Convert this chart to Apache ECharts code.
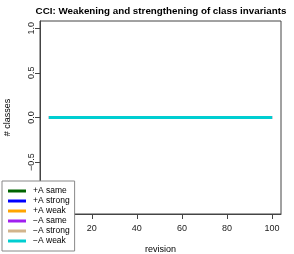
<!DOCTYPE html>
<html>
<head>
<meta charset="utf-8">
<script src="https://cdn.jsdelivr.net/npm/echarts@6/dist/echarts.min.js"></script>
<style>html,body{margin:0;padding:0;background:#fff}#c{width:294px;height:254px}</style>
</head>
<body>
<div id="c"></div>
<script>
const revisions = [1,2,3,4,5,6,7,8,9,10,11,12,13,14,15,16,17,18,19,20,21,22,23,24,25,26,27,28,29,30,31,32,33,34,35,36,37,38,39,40,41,42,43,44,45,46,47,48,49,50,51,52,53,54,55,56,57,58,59,60,61,62,63,64,65,66,67,68,69,70,71,72,73,74,75,76,77,78,79,80,81,82,83,84,85,86,87,88,89,90,91,92,93,94,95,96,97,98,99,100];
const plusSame    = [0,0,0,0,0,0,0,0,0,0,0,0,0,0,0,0,0,0,0,0,0,0,0,0,0,0,0,0,0,0,0,0,0,0,0,0,0,0,0,0,0,0,0,0,0,0,0,0,0,0,0,0,0,0,0,0,0,0,0,0,0,0,0,0,0,0,0,0,0,0,0,0,0,0,0,0,0,0,0,0,0,0,0,0,0,0,0,0,0,0,0,0,0,0,0,0,0,0,0,0];
const plusStrong  = [0,0,0,0,0,0,0,0,0,0,0,0,0,0,0,0,0,0,0,0,0,0,0,0,0,0,0,0,0,0,0,0,0,0,0,0,0,0,0,0,0,0,0,0,0,0,0,0,0,0,0,0,0,0,0,0,0,0,0,0,0,0,0,0,0,0,0,0,0,0,0,0,0,0,0,0,0,0,0,0,0,0,0,0,0,0,0,0,0,0,0,0,0,0,0,0,0,0,0,0];
const plusWeak    = [0,0,0,0,0,0,0,0,0,0,0,0,0,0,0,0,0,0,0,0,0,0,0,0,0,0,0,0,0,0,0,0,0,0,0,0,0,0,0,0,0,0,0,0,0,0,0,0,0,0,0,0,0,0,0,0,0,0,0,0,0,0,0,0,0,0,0,0,0,0,0,0,0,0,0,0,0,0,0,0,0,0,0,0,0,0,0,0,0,0,0,0,0,0,0,0,0,0,0,0];
const minusSame   = [0,0,0,0,0,0,0,0,0,0,0,0,0,0,0,0,0,0,0,0,0,0,0,0,0,0,0,0,0,0,0,0,0,0,0,0,0,0,0,0,0,0,0,0,0,0,0,0,0,0,0,0,0,0,0,0,0,0,0,0,0,0,0,0,0,0,0,0,0,0,0,0,0,0,0,0,0,0,0,0,0,0,0,0,0,0,0,0,0,0,0,0,0,0,0,0,0,0,0,0];
const minusStrong = [0,0,0,0,0,0,0,0,0,0,0,0,0,0,0,0,0,0,0,0,0,0,0,0,0,0,0,0,0,0,0,0,0,0,0,0,0,0,0,0,0,0,0,0,0,0,0,0,0,0,0,0,0,0,0,0,0,0,0,0,0,0,0,0,0,0,0,0,0,0,0,0,0,0,0,0,0,0,0,0,0,0,0,0,0,0,0,0,0,0,0,0,0,0,0,0,0,0,0,0];
const minusWeak   = [0,0,0,0,0,0,0,0,0,0,0,0,0,0,0,0,0,0,0,0,0,0,0,0,0,0,0,0,0,0,0,0,0,0,0,0,0,0,0,0,0,0,0,0,0,0,0,0,0,0,0,0,0,0,0,0,0,0,0,0,0,0,0,0,0,0,0,0,0,0,0,0,0,0,0,0,0,0,0,0,0,0,0,0,0,0,0,0,0,0,0,0,0,0,0,0,0,0,0,0];
const seriesNames = ['+A same','+A strong','+A weak','\u2212A same','\u2212A strong','\u2212A weak'];
const seriesColors = ['#006400','#0000FF','#FFA500','#A020F0','#D2B48C','#00CED1'];
const xTicks = [0,20,40,60,80,100];
const yTicks = [-1,-0.5,0,0.5,1];
const title = 'CCI: Weakening and strengthening of class invariants';

const seriesData = [plusSame, plusStrong, plusWeak, minusSame, minusStrong, minusWeak];
const FONT = '"Liberation Sans", Arial, Helvetica, sans-serif';
const fmtY = v => { const s = v.toFixed(1); return v < 0 ? '\u2212' + s.slice(1) : s; };

const chart = echarts.init(document.getElementById('c'), null, {renderer: 'canvas'});
chart.setOption({
  animation: false,
  backgroundColor: '#fff',
  textStyle: {fontFamily: FONT},
  title: {
    text: title, left: 161, top: 6, textAlign: 'center', padding: 0,
    textStyle: {fontSize: 9.8, fontWeight: 'bold', color: '#000', fontFamily: FONT}
  },
  grid: {left: 40, top: 21, width: 241, height: 193, containLabel: false, outerBoundsMode: 'none',
         show: true, borderColor: '#444', borderWidth: 1, backgroundColor: 'transparent'},
  xAxis: {
    type: 'value', min: -2.96, max: 103.96,
    name: 'revision', nameLocation: 'middle', nameGap: 31,
    nameTextStyle: {fontSize: 9, color: '#000', fontFamily: FONT},
    axisLine: {show: true, onZero: false, lineStyle: {color: '#444'}},
    axisTick: {show: true, inside: false, length: 5, lineStyle: {color: '#444'}, customValues: xTicks},
    axisLabel: {show: true, fontSize: 9, color: '#222', margin: 10, customValues: xTicks, formatter: v => String(v)},
    splitLine: {show: false}
  },
  yAxis: {
    type: 'value', min: -1.08, max: 1.08,
    name: '# classes', nameLocation: 'middle', nameGap: 28, nameRotate: 90,
    nameTextStyle: {fontSize: 9, color: '#000', fontFamily: FONT},
    axisLine: {show: true, onZero: false, lineStyle: {color: '#444'}},
    axisTick: {show: true, inside: false, length: 5, lineStyle: {color: '#444'}, customValues: yTicks},
    axisLabel: {show: true, fontSize: 9, color: '#222', margin: 4, rotate: 90, customValues: yTicks, formatter: v => fmtY(v)},
    splitLine: {show: false}
  },
  legend: {
    orient: 'vertical', left: 2, top: 181,
    padding: [5, 5, 5, 6],
    itemGap: 0, itemWidth: 18, itemHeight: 3, icon: 'rect',
    backgroundColor: '#fff', borderColor: '#888', borderWidth: 1,
    data: seriesNames,
    textStyle: {fontSize: 8.5, color: '#000', lineHeight: 10, padding: [0, 0, 0, 2], fontFamily: FONT}
  },
  series: seriesNames.map((n, i) => ({
    name: n, type: 'line', showSymbol: false, symbol: 'none',
    data: revisions.map((r, j) => [r, seriesData[i][j]]),
    lineStyle: {width: 3, color: seriesColors[i]},
    itemStyle: {color: seriesColors[i]}
  }))
});
</script>
</body>
</html>
